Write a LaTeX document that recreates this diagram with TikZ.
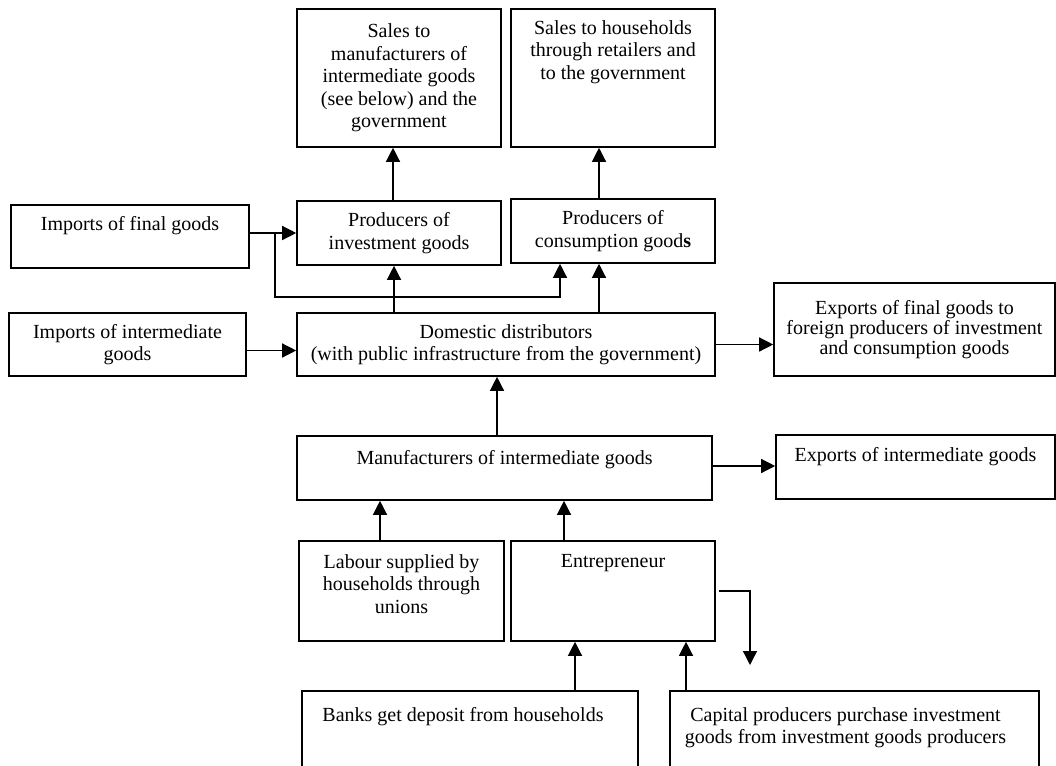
\documentclass[tikz,border=0pt]{standalone}
\usepackage{fontspec}
\setmainfont{Liberation Serif}
\usetikzlibrary{arrows.meta,positioning}

\begin{document}
\begin{tikzpicture}[line join=miter,>={Triangle[length=14pt,width=14pt]},x=1pt,y=-1pt,
		font=\fontsize{20}{22.5}\selectfont,
		box/.style={draw=black,line width=1.6pt,inner sep=0pt,align=center},
		txt/.style={inner sep=0pt,align=center},
		flow/.style={->,line width=1.3pt}]
	\useasboundingbox (0,0) rectangle (1056,765);

	\node[box,minimum width=204pt,minimum height=138pt] (salesmf) at (399,78) {Sales to\\manufacturers of\\intermediate goods\\(see below) and the\\government};
	\node[box,minimum width=204pt,minimum height=138pt] (saleshh) at (613,78) {};
	\node[txt,below=12pt of saleshh.north] (saleshhtxt) {Sales to households\\through retailers and\\to the government};

	\node[box,minimum width=238pt,minimum height=63pt] (impfinal) at (130,236.5) {};
	\node[txt,below=12pt of impfinal.north] (impfinaltxt) {Imports of final goods};
	\node[box,minimum width=204pt,minimum height=64pt] (prodinv) at (399,233) {Producers of\\investment goods};
	\node[box,minimum width=204pt,minimum height=64pt] (prodcons) at (613,231) {Producers of\\consumption good\textbf{s}};

	\node[box,minimum width=237pt,minimum height=63pt] (impint) at (127.5,344.5) {Imports of intermediate\\goods};
	\node[box,minimum width=418pt,minimum height=63pt] (distr) at (506,344.5) {Domestic distributors\\(with public infrastructure from the government)};
	\node[box,minimum width=281pt,minimum height=93pt,font=\fontsize{20}{20}\selectfont] (expfinal) at (914.5,329.5) {Exports of final goods to\\foreign producers of investment\\and consumption goods};

	\node[box,minimum width=415pt,minimum height=64pt] (manuf) at (504.5,468) {};
	\node[txt,below=15pt of manuf.north] (manuftxt) {Manufacturers of intermediate goods};
	\node[box,minimum width=279pt,minimum height=64pt] (expint) at (915.5,467) {};
	\node[txt,below=13pt of expint.north] (expinttxt) {Exports of intermediate goods};

	\node[box,minimum width=205pt,minimum height=100pt] (labour) at (401.5,591) {};
	\node[txt,below=14pt of labour.north] (labourtxt) {Labour supplied by\\households through\\unions};
	\node[box,minimum width=204pt,minimum height=100pt] (entre) at (613,591) {};
	\node[txt,below=14pt of entre.north] (entretxt) {Entrepreneur};

	\node[box,minimum width=336pt,minimum height=84pt] (banks) at (470,733) {};
	\node[txt,below=17pt of banks.north,xshift=-7pt] (bankstxt) {Banks get deposit from households};
	\node[box,minimum width=369pt,minimum height=84pt] (capital) at (854.5,733) {};
	\node[txt,below=17pt of capital.north,xshift=-9pt] (capitaltxt) {Capital producers purchase investment\\goods from investment goods producers};

	\coordinate (fork) at (275,233);
	\coordinate (bend) at (275,297);
	\coordinate (entreout) at (750,665);

	\draw[flow] ([xshift=-6pt]prodinv.north) -- ([xshift=-6pt]salesmf.south);
	\draw[flow] ([xshift=-14pt]prodcons.north) -- ([xshift=-14pt]saleshh.south);
	\draw[flow] (impfinal.east |- prodinv.west) -- (prodinv.west);
	\draw[flow] (fork) -- (bend) -| ([xshift=-53pt]prodcons.south);
	\draw[flow] ([xshift=-5pt]prodinv.south |- distr.north) -- ([xshift=-5pt]prodinv.south);
	\draw[flow] ([xshift=-14pt]prodcons.south |- distr.north) -- ([xshift=-14pt]prodcons.south);
	\draw[flow] ([yshift=-6pt]impint.east) -- ([yshift=-6pt]impint.east -| distr.west);
	\draw[flow] (distr.east) -- (distr.east -| expfinal.west);
	\draw[flow] ([xshift=-7.5pt]manuf.north) -- ([xshift=-7.5pt]manuf.north |- distr.south);
	\draw[flow] ([yshift=2pt]manuf.east) -- ([yshift=2pt]manuf.east -| expint.west);
	\draw[flow] ([xshift=-21.5pt]labour.north) -- ([xshift=-21.5pt]labour.north |- manuf.south);
	\draw[flow] ([xshift=-49pt]entre.north) -- ([xshift=-49pt]entre.north |- manuf.south);
	\draw[flow] ([xshift=-38pt]entre.south |- banks.north) -- ([xshift=-38pt]entre.south);
	\draw[flow] ([xshift=73pt]entre.south |- capital.north) -- ([xshift=73pt]entre.south);
	\draw[flow] ([xshift=3pt]entre.east) -| (entreout);
\end{tikzpicture}
\end{document}
